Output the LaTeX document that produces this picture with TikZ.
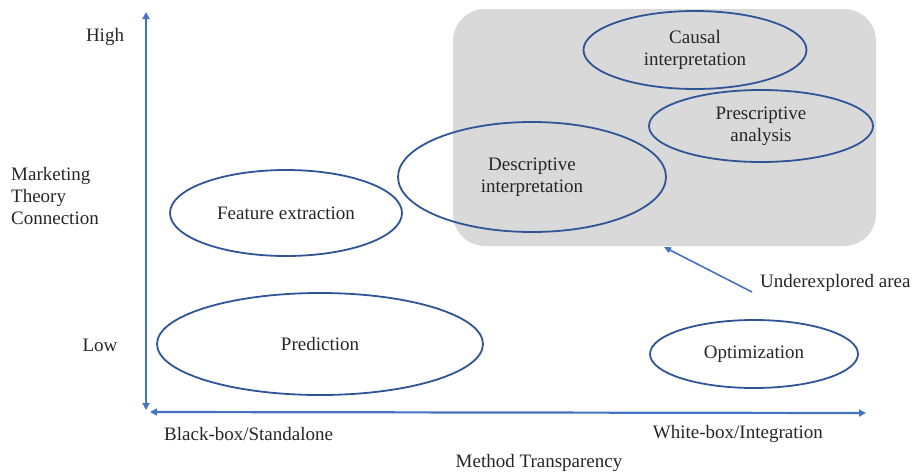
\documentclass[tikz,border=0pt]{standalone}
\usepackage{fontspec}
\setmainfont{Liberation Serif}
\usetikzlibrary{arrows.meta,shapes.geometric}
\definecolor{axisblue}{RGB}{68,114,196}
\definecolor{ellblue}{RGB}{47,85,151}
\definecolor{boxgray}{RGB}{217,217,217}
\begin{document}
\begin{tikzpicture}[x=1pt,y=-1pt,
  every node/.style={font=\fontsize{19}{22}\selectfont, text=black!85},
  axis/.style={draw=axisblue, line width=2.2pt, {Triangle[length=7pt,width=7pt]}-{Triangle[length=7pt,width=7pt]}},
  bubble/.style={draw=ellblue, line width=1.8pt, ellipse, align=center, inner sep=0pt},
  lbl/.style={inner sep=0pt}
]
\useasboundingbox (0,0) rectangle (917,474);
% gray area
\node[draw=none, fill=boxgray, rounded corners=32pt, minimum width=423pt, minimum height=237pt, inner sep=0pt] (area) at (664.5,127.5) {};
% axes
\coordinate (vtop) at (146,12);
\coordinate (vbot) at (146,410);
\coordinate (hl) at (150,412);
\coordinate (hr) at (866,413);
\draw[axis] (vtop) -- (vbot);
\draw[axis] (hl) -- (hr);
% ellipses
\node[bubble, minimum width=223pt, minimum height=78pt] (causal) at (695,50) {Causal\\interpretation};
\node[bubble, minimum width=224pt, minimum height=72pt] (presc) at (761,126) {Prescriptive\\analysis};
\node[bubble, minimum width=268pt, minimum height=110pt] (desc) at (532,177) {Descriptive\\interpretation};
\node[bubble, minimum width=232pt, minimum height=86pt] (feat) at (286,213) {Feature extraction};
\node[bubble, minimum width=326pt, minimum height=102pt] (pred) at (320,344) {Prediction};
\node[bubble, minimum width=208pt, minimum height=68pt] (opt) at (754,354) {Optimization};
% labels
\node[lbl, anchor=west] (under) at (760,283) {Underexplored area};
\coordinate (utail) at (752,292);
\coordinate (uarrow) at (664,247);
\draw[draw=axisblue, line width=1.6pt, -{Triangle[length=7pt,width=6pt]}] (utail) -- (uarrow);
\node[lbl] (high) at (105,37) {High};
\node[lbl] (low) at (100,345) {Low};
\node[lbl, anchor=west, align=left] (mtc) at (11,196) {Marketing\\Theory\\Connection};
\node[lbl, anchor=west] (bb) at (164,434) {Black-box/Standalone};
\node[lbl, anchor=east] (wb) at (823,434) {White-box/Integration};
\node[lbl] (mt) at (539,463) {Method Transparency};
\end{tikzpicture}
\end{document}
